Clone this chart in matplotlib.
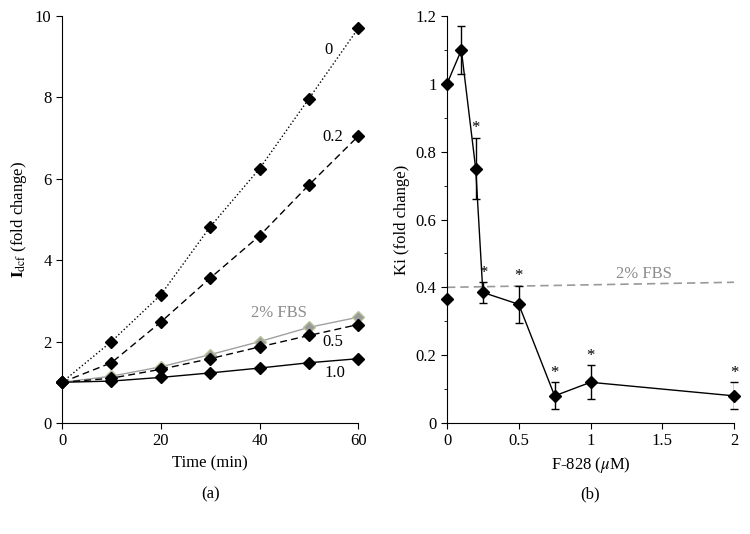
import numpy as np
import matplotlib
matplotlib.use("Agg")
import matplotlib.pyplot as plt
from matplotlib.ticker import MultipleLocator

plt.rcParams['font.family'] = ['Liberation Serif', 'DejaVu Serif']
plt.rcParams['mathtext.fontset'] = 'stix'

# panel (a) data
time_min = [0, 10, 20, 30, 40, 50, 60]
idcf_0 = [1.0, 2.0, 3.15, 4.82, 6.25, 7.97, 9.7]
idcf_02 = [1.0, 1.48, 2.48, 3.56, 4.6, 5.85, 7.05]
idcf_fbs = [1.0, 1.15, 1.38, 1.68, 2.0, 2.35, 2.6]
idcf_05 = [1.0, 1.1, 1.32, 1.58, 1.87, 2.15, 2.42]
idcf_10 = [1.0, 1.03, 1.12, 1.23, 1.35, 1.48, 1.58]

# panel (b) data
conc = [0, 0.1, 0.2, 0.25, 0.5, 0.75, 1, 2]
ki = [1.0, 1.1, 0.75, 0.385, 0.35, 0.08, 0.12, 0.08]
ki_err = [0, 0.07, 0.09, 0.03, 0.055, 0.04, 0.05, 0.04]
starred = [False, False, True, True, True, True, True, True]
fbs_point = 0.367
fbs_line_x = [0, 2]
fbs_line_y = [0.40, 0.415]

fig = plt.figure(figsize=(7.5, 5.34), dpi=100)
ax1 = fig.add_axes([0.0827, 0.2079, 0.395, 0.762])
ax2 = fig.add_axes([0.596, 0.2079, 0.3827, 0.762])

mk = dict(marker='D', markersize=6.5, markerfacecolor='black', markeredgecolor='black')

# panel (a)
ax1.plot(time_min, idcf_0, color='black', linestyle=':', lw=1, **mk)
ax1.plot(time_min, idcf_02, color='black', linestyle=(0, (5, 3)), lw=1, **mk)
ax1.plot(time_min, idcf_fbs, color='#a0a0a0', lw=1, marker='D', markersize=6.5,
         markerfacecolor='#9a9a9a', markeredgecolor='#b5c49a')
ax1.plot(time_min, idcf_05, color='black', linestyle=(0, (5, 3)), lw=1, **mk)
ax1.plot(time_min, idcf_10, color='black', linestyle='-', lw=1, **mk)

ax1.text(53.9, 9.16, '0', fontsize=12, ha='center', va='center')
ax1.text(54.9, 7.03, '0.2', fontsize=12, ha='center', va='center')
ax1.text(44, 2.70, '2% FBS', fontsize=12, ha='center', va='center', color='#8c8c8c')
ax1.text(54.9, 1.99, '0.5', fontsize=12, ha='center', va='center')
ax1.text(55.3, 1.23, '1.0', fontsize=12, ha='center', va='center')

ax1.set_xlim(0, 60)
ax1.set_ylim(0, 10)
ax1.set_xticks([0, 20, 40, 60])
ax1.set_yticks([0, 2, 4, 6, 8, 10])
ax1.set_xlabel('Time (min)', fontsize=12)
ax1.set_ylabel(r'$\mathbf{I}_{\mathrm{dcf}}$ (fold change)', fontsize=12)
ax1.text(0.5, -0.175, '(a)', transform=ax1.transAxes, ha='center', va='center', fontsize=12)

# panel (b)
ax2.plot(fbs_line_x, fbs_line_y, color='#999999', linestyle=(0, (5, 3)), lw=1.2)
ax2.text(1.37, 0.44, '2% FBS', fontsize=12, ha='center', va='center', color='#8c8c8c')
ax2.errorbar(conc, ki, yerr=ki_err, color='black', lw=1, elinewidth=1,
             capsize=3, capthick=1, **mk)
ax2.plot([0], [fbs_point], linestyle='none', **mk)
for x, y, e, s in zip(conc, ki, ki_err, starred):
    if s:
        ax2.text(x, y + e + 0.005, '*', fontsize=12, ha='center', va='bottom')

ax2.set_xlim(0, 2)
ax2.set_ylim(0, 1.2)
ax2.set_xticks([0, 0.5, 1, 1.5, 2])
ax2.set_xticklabels(['0', '0.5', '1', '1.5', '2'])
ax2.set_yticks([0, 0.2, 0.4, 0.6, 0.8, 1.0, 1.2])
ax2.set_yticklabels(['0', '0.2', '0.4', '0.6', '0.8', '1', '1.2'])
ax2.yaxis.set_minor_locator(MultipleLocator(0.1))
ax2.set_xlabel(r'F-828 ($\mu$M)', fontsize=12)
ax2.set_ylabel('Ki (fold change)', fontsize=12)
ax2.text(0.5, -0.175, '(b)', transform=ax2.transAxes, ha='center', va='center', fontsize=12)

for ax in (ax1, ax2):
    ax.spines['top'].set_visible(False)
    ax.spines['right'].set_visible(False)
    ax.tick_params(labelsize=12, direction='out', length=4)
    ax.tick_params(which='minor', direction='out', length=2.5)
    for line in ax.lines:
        line.set_clip_on(False)

fig.savefig('out.png', dpi=100)
